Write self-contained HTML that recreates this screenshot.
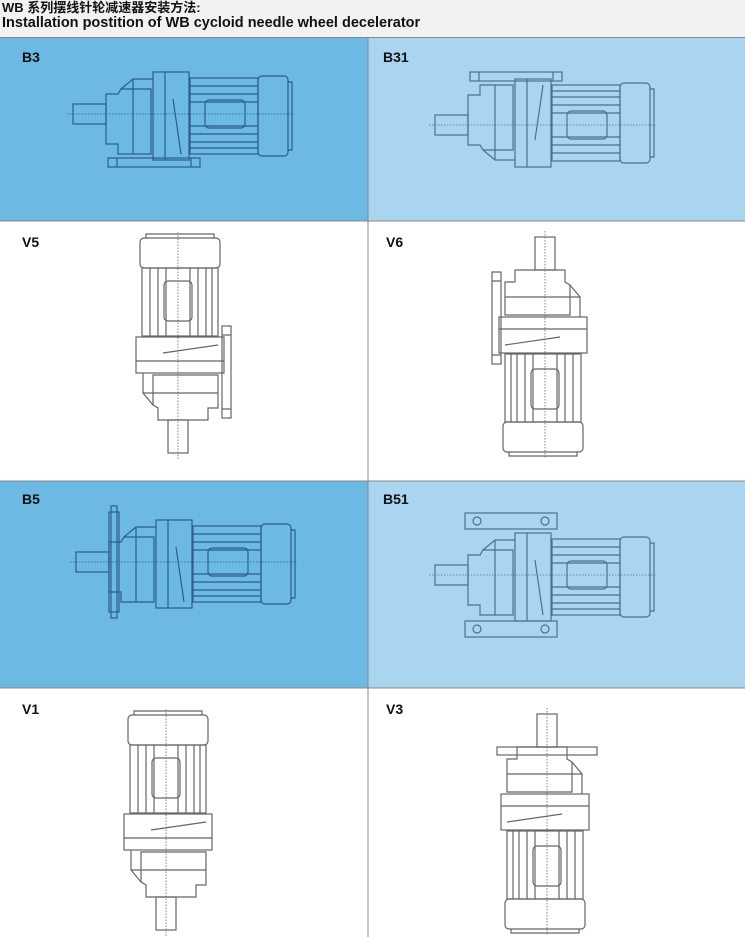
<!DOCTYPE html>
<html><head><meta charset="utf-8"><style>
body{margin:0;width:745px;height:937px;overflow:hidden;background:#f2f2f2;font-family:"Liberation Sans","Noto Sans CJK SC",sans-serif}
.h{position:absolute;left:2px;font-weight:bold;font-size:14px;color:#111;line-height:15px;white-space:nowrap}
</style></head><body>
<div class="h" style="top:0px;font-size:13px">WB 系列摆线针轮减速器安装方法:</div>
<div class="h" style="top:16px;font-size:14.5px">Installation postition of WB cycloid needle wheel decelerator</div>
<svg width="745" height="937" style="position:absolute;left:0;top:0" xmlns="http://www.w3.org/2000/svg">
<defs>
<g id="m" fill="none" stroke-width="1.2">
 <line x1="-6" y1="0" x2="222" y2="0" stroke-dasharray="1.5,1.5" stroke-width="0.8"/>
 <rect x="0" y="-10" width="33" height="20"/>
 <path d="M33,-20 H45 L48,-25 H78 V40 H45 V30 H33 Z"/>
 <path d="M48,-25 L60,-35 H80 M60,-35 V40"/>
 <rect x="80" y="-42" width="36" height="88"/>
 <path d="M92,-42 V46 M100,-15 L108,40"/>
 <rect x="117" y="-36" width="68" height="76"/>
 <path d="M117,-28 H185 M117,-20 H185 M117,-12 H185 M117,12 H185 M117,20 H185 M117,28 H185 M117,34 H185"/>
 <rect x="132" y="-14" width="40" height="28" rx="4"/>
 <rect x="185" y="-38" width="30" height="80" rx="4"/>
 <path d="M215,-32 H219 V36 H215"/>
</g>
<g id="foot" fill="none" stroke-width="1.2"><rect x="35" y="44" width="92" height="9"/><path d="M44,44 V53 M118,44 V53"/></g>
</defs>
<rect x="0" y="37" width="368" height="184" fill="#6cb9e3"/>
<rect x="368" y="37" width="377" height="184" fill="#a9d5f1"/>
<rect x="0" y="221" width="745" height="260" fill="#fff"/>
<rect x="0" y="481" width="368" height="207" fill="#6cb9e3"/>
<rect x="368" y="481" width="377" height="207" fill="#a9d5f1"/>
<rect x="0" y="688" width="745" height="249" fill="#fff"/>
<g stroke="#888" stroke-width="1"><line x1="368" y1="37" x2="368" y2="937"/><line x1="0" y1="221" x2="745" y2="221"/><line x1="0" y1="481" x2="745" y2="481"/><line x1="0" y1="688" x2="745" y2="688"/><line x1="0" y1="37.5" x2="745" y2="37.5"/></g>
<g font-size="14" font-weight="bold" fill="#111" font-family="Liberation Sans,sans-serif">
<text x="22" y="62">B3</text><text x="383" y="62">B31</text>
<text x="22" y="247">V5</text><text x="386" y="247">V6</text>
<text x="22" y="504">B5</text><text x="383" y="504">B51</text>
<text x="22" y="714">V1</text><text x="386" y="714">V3</text></g>
<g stroke="#2d5d8c"><g transform="translate(73,114)"><use href="#m"/><use href="#foot"/></g></g>
<g stroke="#4d6f94"><g transform="translate(435,125) scale(1,-1)"><use href="#m"/><use href="#foot"/></g></g>
<g stroke="#666"><g transform="translate(178,453) rotate(-90)"><use href="#m"/><use href="#foot"/></g></g>
<g stroke="#666"><g transform="translate(545,237) rotate(90)"><use href="#m"/><use href="#foot"/></g></g>
<g stroke="#2d5d8c"><g transform="translate(76,562)"><use href="#m"/><g fill="none" stroke-width="1.2"><rect x="33" y="-50" width="10" height="100"/><rect x="35" y="-56" width="6" height="112"/></g></g></g>
<g stroke="#4d6f94"><g transform="translate(435,575)"><use href="#m"/><g fill="none" stroke-width="1.2"><rect x="30" y="-62" width="92" height="16"/><rect x="30" y="46" width="92" height="16"/><circle cx="42" cy="-54" r="4"/><circle cx="110" cy="-54" r="4"/><circle cx="42" cy="54" r="4"/><circle cx="110" cy="54" r="4"/></g></g></g>
<g stroke="#666"><g transform="translate(166,930) rotate(-90)"><use href="#m"/></g></g>
<g stroke="#666"><g transform="translate(547,714) rotate(90)"><use href="#m"/><g fill="none" stroke-width="1.2"><rect x="33" y="-50" width="8" height="100"/></g></g></g>
</svg>
</body></html>
